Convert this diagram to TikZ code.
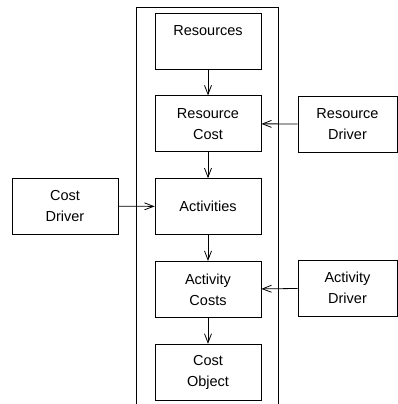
\documentclass[tikz,border=0pt]{standalone}
\usepackage{fontspec}
\setmainfont{Liberation Sans}
\usetikzlibrary{arrows.meta, positioning}

\tikzset{
    stage/.style={draw, line width=0.8pt, minimum width=106pt, minimum height=56pt,
        inner sep=0pt, align=center, font=\fontsize{14.5}{21}\selectfont},
    driver/.style={stage, minimum width=99pt},
    flow/.style={-{Straight Barb[length=9pt,width=7pt]}, line width=0.8pt}
}

\begin{document}
\begin{tikzpicture}[x=1pt, y=1pt]
\useasboundingbox (0,0) rectangle (398,-404);
% enclosing frame, open at the bottom
\draw[line width=0.8pt] (136,-404) -- (136,-7) -- (278,-7) -- (278,-404);

% main column
\node[stage] (res) at (208,-41) {Resources\\ \mbox{}};
\node[stage, below=26pt of res] (rescost) {Resource\\Cost};
\node[stage, below=26pt of rescost] (act) {Activities};
\node[stage, below=26pt of act] (actcost) {Activity\\Costs};
\node[stage, below=26pt of actcost] (costobj) {Cost\\Object};

% drivers
\node[driver] (resdrv) at (347.5,-124) {Resource\\Driver};
\node[stage] (costdrv) at (65,-206) {Cost\\Driver};
\node[driver] (actdrv) at (347.5,-288) {Activity\\Driver};

\draw[flow] (res) -- (rescost);
\draw[flow] (rescost) -- (act);
\draw[flow] (act) -- (actcost);
\draw[flow] (actcost) -- (costobj);
\draw[flow] (resdrv) -- (rescost);
\draw[flow] (costdrv) -- (act);
\draw[flow] (actdrv) -- (actcost);
\end{tikzpicture}
\end{document}
